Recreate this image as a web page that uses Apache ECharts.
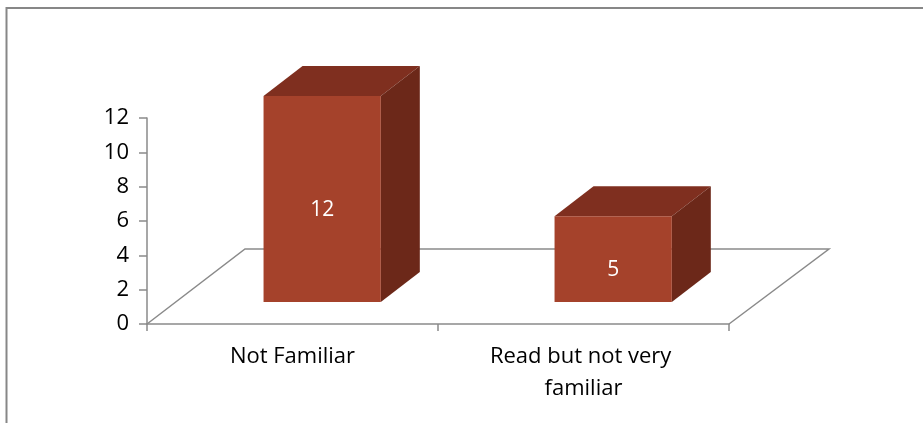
<!DOCTYPE html>
<html>
<head>
<meta charset="utf-8">
<script src="https://cdn.jsdelivr.net/npm/echarts@6/dist/echarts.min.js"></script>
<style>
  html, body { margin: 0; padding: 0; background: #fff; }
  #chart { width: 923px; height: 423px; }
</style>
</head>
<body>
<div id="chart"></div>
<script>
const categories = ['Not Familiar', 'Read but not very familiar'];
const values = [12, 5];
const yMin = 0;
const yMax = 12;
const yInterval = 2;

const FONT = '"Open Sans", Lato, sans-serif';
const GRAY = '#8a8a8a';

function renderFloor(params, api) {
  const cs = params.coordSys;
  const fl = [cs.x, cs.y + cs.height];
  const fr = [cs.x + cs.width, cs.y + cs.height];
  const bl = [fl[0] + 98, fl[1] - 75];
  const br = [fr[0] + 100, fr[1] - 75];
  return {
    type: 'polyline',
    shape: { points: [fl, bl, br, fr] },
    style: { stroke: GRAY, lineWidth: 1.5, fill: null }
  };
}

function renderBar(params, api) {
  const i = api.value(0);
  const v = api.value(1);
  const top = api.coord([i, v]);
  const base = api.coord([i, 0]);
  const band = api.size([1, 0])[0];
  const w = band * 0.403;
  const ox = band * 0.102, oy = -22;
  const dx = 39, dy = -30;
  const x0 = top[0] + ox - w / 2, x1 = x0 + w;
  const yT = top[1] + oy, yB = base[1] + oy;
  return {
    type: 'group',
    children: [
      { type: 'polygon', shape: { points: [[x0, yT], [x1, yT], [x1 + dx, yT + dy], [x0 + dx, yT + dy]] }, style: { fill: '#7F2F1F' } },
      { type: 'polygon', shape: { points: [[x1, yT], [x1 + dx, yT + dy], [x1 + dx, yB + dy], [x1, yB]] }, style: { fill: '#6C2819' } },
      { type: 'rect', shape: { x: x0, y: yT, width: w, height: yB - yT }, style: { fill: '#A5422B' } },
      { type: 'text', x: (x0 + x1) / 2, y: (yT + yB) / 2 + 11,
        style: { text: String(v), fill: '#ffffff', fontSize: 21, fontFamily: FONT, align: 'center', verticalAlign: 'middle' } }
    ]
  };
}

const chart = echarts.init(document.getElementById('chart'), null, { renderer: 'canvas' });
chart.setOption({
  animation: false,
  backgroundColor: '#ffffff',
  graphic: [{
    type: 'rect',
    shape: { x: 6.5, y: 8, width: 940, height: 440 },
    style: { fill: null, stroke: '#878787', lineWidth: 2 },
    silent: true
  }],
  grid: { left: 147, right: 194, top: 118, bottom: 99, containLabel: false },
  xAxis: {
    type: 'category',
    data: categories,
    axisLine: { show: true, lineStyle: { color: GRAY, width: 1.5 } },
    axisTick: { show: true, length: 7, lineStyle: { color: GRAY, width: 1.5 } },
    axisLabel: {
      color: '#000', fontSize: 22, fontFamily: FONT, margin: 17, lineHeight: 32,
      width: 230, overflow: 'break', interval: 0
    },
    splitLine: { show: false }
  },
  yAxis: {
    type: 'value',
    min: yMin, max: yMax, interval: yInterval,
    axisLine: { show: true, lineStyle: { color: GRAY, width: 1.5 } },
    axisTick: { show: true, length: 8, lineStyle: { color: GRAY, width: 1.5 } },
    axisLabel: { color: '#000', fontSize: 22, fontFamily: FONT, margin: 18 },
    splitLine: { show: false }
  },
  series: [
    {
      type: 'custom',
      renderItem: renderFloor,
      data: [[0, 0]],
      encode: { x: 0, y: 1 },
      clip: false,
      silent: true,
      z: 1
    },
    {
      type: 'custom',
      renderItem: renderBar,
      data: values.map((v, i) => [i, v]),
      encode: { x: 0, y: 1 },
      clip: false,
      z: 2
    }
  ]
});
</script>
</body>
</html>
